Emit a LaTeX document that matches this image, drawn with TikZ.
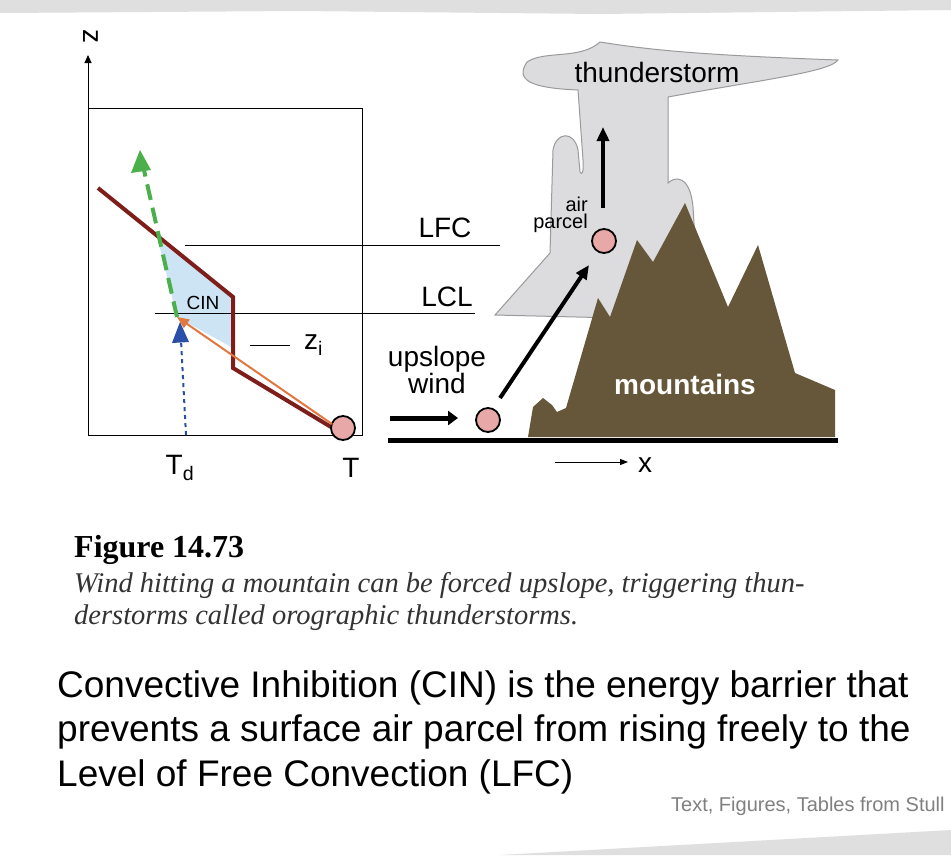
\documentclass[tikz,border=0pt]{standalone}
\usepackage{fontspec}
\setmainfont{Liberation Sans}
\newfontfamily\serifx{Liberation Serif}
\usetikzlibrary{arrows.meta}
\definecolor{brick}{HTML}{7E1E1A}
\definecolor{mtn}{HTML}{66573A}
\definecolor{cloudc}{HTML}{DCDCDE}
\definecolor{cinb}{HTML}{CCE4F4}
\definecolor{grn}{HTML}{4BB04B}
\definecolor{orng}{HTML}{E07840}
\definecolor{blu}{HTML}{2A4FA8}
\definecolor{pinkc}{HTML}{E8A8A8}
\tikzset{
 lbl/.style={inner sep=0pt, font=\fontsize{28}{28}\selectfont},
 parcel/.style={circle, draw=black, line width=1.8pt, fill=pinkc, minimum size=24pt, inner sep=0pt},
 thin/.style={line width=1pt},
}
\begin{document}
\begin{tikzpicture}[x=1pt,y=-1pt]
\useasboundingbox (0,0) rectangle (951,855);
\fill[white] (0,0) rectangle (951,855);
\fill[gray!25] (0,0) -- (951,0) -- (951,10) -- (600,14) -- (300,11) -- (0,13) -- cycle;
% left chart
\draw[thin,-{Triangle[length=8pt,width=7pt]}] (88,435) -- (88,55);
\node[lbl,rotate=-90] (zlab) at (91,36) {z};
\draw[thin] (88,108) -- (362,108) -- (362,435) -- (88,435);
\fill[cinb] (158,240) -- (233,297) -- (233,348) -- (177,317) -- cycle;
\node[inner sep=0pt, font=\fontsize{19}{19}\selectfont] (cin) at (203,303) {CIN};
\draw[thin] (185,245) -- (500,245);
\draw[thin] (155,313) -- (475,313);
\draw[thin] (250,345) -- (290,345);
\node[lbl,anchor=west] (zi) at (304,345) {z\textsubscript{i}};
\draw[brick, line width=4pt] (98,188) -- (233,297) -- (233,368) -- (336,430);
\coordinate (lcl) at (177,317);
\node[parcel] (p0) at (343,428) {};
\draw[orng, line width=2pt, -{Triangle[length=12pt,width=10pt]}] (332,424) -- (lcl);
\draw[grn, line width=4pt, dash pattern=on 16pt off 8pt] (lcl) -- (144,170);
\fill[grn] (140,150) -- (131,173) -- (151,170) -- cycle;
\draw[blu, line width=2pt, dash pattern=on 4pt off 4pt] (186,435) -- (181,340);
\fill[blu] (180,322) -- (172,343) -- (189,342) -- cycle;
\node[lbl] (td) at (180,468) {T\textsubscript{d}};
\node[lbl] (t) at (351,468) {T};
\node[lbl] (lfc) at (445,228) {LFC};
\node[lbl] (lcltxt) at (447,297) {LCL};
% cloud
\draw[cloudc!70!black, line width=1pt, fill=cloudc]
 (495,315) -- (550,253) -- (553,150) .. controls (556,132) and (574,130) .. (578,150)
 -- (580,172) .. controls (582,176) and (584,172) .. (583,160) -- (578,90)
 .. controls (530,88) and (515,80) .. (527,62) .. controls (545,50) and (580,60) .. (600,42)
 .. controls (650,50) and (700,55) .. (838,60) .. controls (830,72) and (760,80) .. (668,97)
 -- (668,183) .. controls (675,176) and (690,175) .. (693,207) -- (700,320) -- cycle;
\node[lbl] (storm) at (657,72) {thunderstorm};
% mountains
\fill[mtn] (528,437) -- (533,407) -- (543,398) -- (552,405) -- (557,412) -- (566,408)
 -- (598,298) -- (610,317) -- (637,240) -- (653,262) -- (685,203) -- (728,307)
 -- (758,245) -- (795,373) -- (835,390) -- (835,437) -- cycle;
\node[lbl, text=white, font=\bfseries\fontsize{28}{28}\selectfont] (mt) at (685,384) {mountains};
\draw[line width=5pt] (388,440) -- (838,440);
\draw[line width=5pt, -{Triangle[length=10pt,width=14pt]}] (390,418) -- (458,418);
\node[parcel] (p1) at (488,420) {};
\node[parcel] (p2) at (604,241) {};
\draw[line width=4pt, -{Triangle[length=14pt,width=12pt]}] (p1) ++(12,-22) -- (589,265);
\draw[line width=4pt, -{Triangle[length=14pt,width=12pt]}] (603,208) -- (603,127);
\node[inner sep=0pt, font=\fontsize{20}{17}\selectfont, align=right, anchor=east] (air) at (588,215) {air\\parcel};
\node[lbl, align=center, font=\fontsize{28}{25}\selectfont] (up) at (437,370) {upslope\\wind};
\draw[thin, -{Triangle[length=8pt,width=6pt]}] (555,462) -- (628,462);
\node[lbl] (x) at (645,465) {x};
% caption
\node[anchor=west, inner sep=0pt, font=\serifx\bfseries\fontsize{32}{32}\selectfont] (fig) at (74,550) {Figure 14.73};
\node[anchor=north west, inner sep=0pt, align=left, text=black!80, font=\serifx\itshape\fontsize{28.5}{32}\selectfont] (cap) at (74,572) {Wind hitting a mountain can be forced upslope, triggering thun-\\derstorms called orographic thunderstorms.};
\node[anchor=north west, inner sep=0pt, align=left, font=\fontsize{37}{44.5}\selectfont] (para) at (57,670) {Convective Inhibition (CIN) is the energy barrier that\\prevents a surface air parcel from rising freely to the\\Level of Free Convection (LFC)};
\node[anchor=west, inner sep=0pt, text=gray, font=\fontsize{20}{20}\selectfont] (cred) at (671,806) {Text, Figures, Tables from Stull};
\fill[gray!25] (500,855) -- (951,830) -- (951,855) -- cycle;
\end{tikzpicture}
\end{document}
